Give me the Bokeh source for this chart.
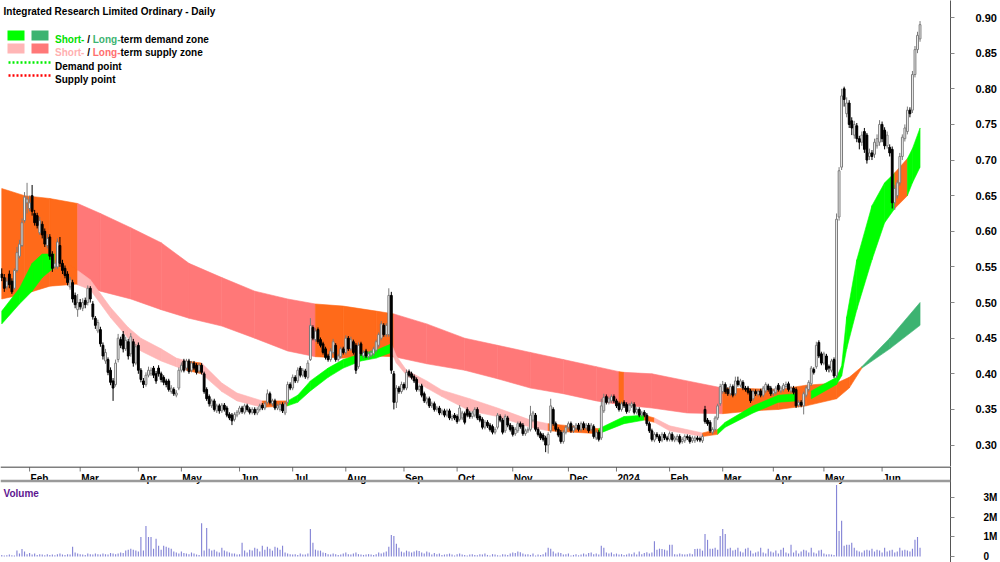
import pandas as pd
from bokeh.plotting import figure
from bokeh.layouts import column
from bokeh.models import (Range1d, FixedTicker, Label, ColumnDataSource,
                          BoxAnnotation, Arrow, Span, NumeralTickFormatter)
from bokeh.core.properties import value
from bokeh.embed import file_html
from bokeh.resources import INLINE

TITLE = "Integrated Research Limited Ordinary - Daily"
FIRST_DAY = "2023-01-16"
LAST_DAY = "2024-06-25"
HOLIDAYS = ["2023-01-26", "2023-04-07", "2023-04-10", "2023-04-25", "2023-06-12", "2023-12-25",
            "2023-12-26", "2024-01-01", "2024-01-26", "2024-03-29", "2024-04-01", "2024-04-25",
            "2024-06-10"]
PRICE_TICKS = [0.30, 0.35, 0.40, 0.45, 0.50, 0.55, 0.60, 0.65, 0.70, 0.75, 0.80, 0.85, 0.90]
VOLUME_TICKS = [0, 1, 2, 3]
VOLUME_TICK_LABELS = ["0", "1M", "2M", "3M"]

opens = [
    .540, .535, .522, .540, .530, .520, .545, .565, .580, .615,
    .640, .632, .650, .625, .622, .598, .610, .600, .580, .592,
    .568, .550, .550, .580, .555, .548, .540, .522, .528, .510,
    .490, .500, .492, .503, .500, .520, .498, .478, .460, .462,
    .440, .418, .420, .405, .390, .385, .420, .448, .455, .435,
    .445, .428, .445, .415, .440, .405, .390, .385, .398, .400,
    .408, .400, .408, .400, .395, .390, .390, .375, .378, .370,
    .380, .405, .418, .408, .418, .405, .415, .412, .404, .412,
    .400, .378, .368, .355, .362, .348, .355, .348, .356, .352,
    .343, .342, .336, .342, .346, .352, .346, .355, .350, .346,
    .350, .345, .350, .356, .352, .360, .372, .358, .362, .352,
    .350, .357, .345, .360, .385, .380, .395, .390, .408, .398,
    .404, .395, .420, .465, .448, .462, .448, .442, .435, .425,
    .420, .430, .440, .420, .424, .435, .430, .450, .435, .445,
    .440, .410, .442, .425, .432, .424, .426, .428, .433, .440,
    .450, .468, .455, .455, .510, .400, .360, .380, .375, .385,
    .380, .403, .400, .396, .392, .378, .383, .372, .360, .365,
    .355, .358, .350, .352, .345, .348, .342, .348, .337, .342,
    .340, .336, .338, .344, .350, .345, .340, .342, .350, .340,
    .336, .325, .332, .328, .326, .318, .325, .340, .335, .320,
    .338, .328, .325, .316, .320, .330, .328, .316, .320, .322,
    .335, .342, .322, .316, .314, .310, .300, .320, .350, .330,
    .322, .318, .305, .318, .325, .330, .320, .324, .328, .322,
    .330, .324, .328, .322, .326, .310, .318, .310, .348, .368,
    .360, .362, .368, .362, .358, .350, .360, .357, .348, .355,
    .357, .346, .350, .342, .346, .342, .330, .320, .307, .315,
    .312, .307, .315, .310, .308, .315, .307, .308, .312, .305,
    .306, .312, .311, .306, .306, .310, .309, .306, .350, .335,
    .332, .318, .322, .338, .358, .375, .385, .378, .372, .382,
    .372, .390, .384, .388, .380, .380, .376, .365, .375, .371,
    .376, .370, .376, .383, .380, .372, .374, .384, .376, .378,
    .382, .386, .376, .380, .378, .356, .360, .355, .370, .378,
    .386, .406, .410, .444, .428, .415, .425, .410, .405, .420,
    .397, .620, .690, .800, .765, .780, .755, .735, .748, .730,
    .725, .740, .735, .705, .710, .708, .720, .725, .750, .742,
    .720, .718, .715, .640, .650, .668, .705, .730, .740, .770,
    .770, .820, .855, .870]

highs = [
    .548, .540, .535, .545, .534, .548, .578, .588, .618, .655,
    .668, .650, .665, .630, .626, .620, .614, .604, .596, .596,
    .572, .560, .590, .592, .560, .552, .544, .536, .532, .514,
    .512, .505, .506, .507, .524, .523, .502, .481, .476, .466,
    .444, .435, .423, .409, .394, .420, .456, .452, .460, .452,
    .449, .457, .449, .442, .444, .408, .394, .402, .410, .409,
    .411, .404, .412, .403, .398, .393, .393, .384, .381, .377,
    .409, .416, .421, .421, .421, .418, .418, .415, .415, .415,
    .403, .381, .371, .365, .365, .358, .358, .359, .359, .355,
    .346, .345, .346, .349, .355, .355, .358, .358, .353, .353,
    .353, .353, .358, .359, .361, .378, .375, .365, .365, .358,
    .360, .360, .361, .389, .388, .399, .398, .409, .411, .408,
    .407, .419, .478, .468, .464, .465, .451, .445, .438, .428,
    .436, .449, .443, .428, .438, .438, .454, .453, .452, .448,
    .443, .444, .445, .433, .435, .431, .433, .438, .448, .458,
    .474, .471, .471, .520, .515, .404, .384, .383, .389, .388,
    .406, .406, .403, .399, .395, .385, .386, .375, .368, .368,
    .361, .361, .355, .355, .351, .351, .351, .351, .343, .345,
    .343, .356, .348, .347, .353, .348, .348, .353, .353, .343,
    .339, .335, .335, .331, .329, .325, .345, .343, .338, .343,
    .341, .331, .328, .325, .333, .333, .331, .323, .325, .355,
    .348, .345, .325, .319, .317, .313, .318, .365, .353, .333,
    .325, .321, .321, .328, .333, .333, .328, .331, .331, .333,
    .333, .331, .331, .331, .329, .321, .321, .365, .372, .371,
    .368, .371, .371, .365, .361, .361, .363, .360, .359, .361,
    .360, .353, .353, .348, .349, .345, .333, .323, .318, .318,
    .315, .318, .318, .313, .319, .318, .313, .315, .315, .311,
    .315, .315, .314, .313, .313, .313, .312, .315, .355, .338,
    .335, .325, .341, .358, .386, .390, .388, .381, .386, .385,
    .396, .396, .393, .391, .383, .383, .379, .378, .378, .378,
    .379, .383, .388, .386, .383, .379, .383, .387, .383, .387,
    .389, .389, .383, .383, .381, .363, .363, .375, .383, .391,
    .411, .409, .445, .447, .431, .431, .428, .413, .421, .423,
    .625, .690, .800, .803, .788, .784, .760, .755, .752, .734,
    .740, .745, .738, .716, .714, .730, .736, .756, .754, .746,
    .740, .722, .719, .665, .672, .710, .736, .750, .775, .774,
    .825, .860, .880, .895]

lows = [
    .530, .515, .518, .520, .512, .518, .542, .562, .578, .612,
    .625, .628, .622, .608, .604, .595, .590, .578, .576, .560,
    .543, .546, .547, .550, .540, .534, .524, .518, .500, .492,
    .480, .490, .488, .492, .496, .500, .476, .463, .457, .438,
    .420, .414, .398, .384, .362, .382, .416, .436, .430, .432,
    .420, .424, .410, .412, .400, .388, .380, .382, .395, .397,
    .394, .386, .396, .388, .384, .381, .375, .372, .369, .367,
    .377, .402, .402, .405, .400, .402, .405, .399, .401, .399,
    .372, .362, .354, .352, .347, .345, .344, .345, .347, .339,
    .335, .328, .333, .339, .343, .344, .343, .347, .343, .343,
    .342, .342, .347, .349, .349, .357, .357, .355, .349, .349,
    .347, .345, .342, .357, .377, .377, .387, .387, .395, .395,
    .393, .392, .418, .447, .445, .442, .437, .427, .420, .417,
    .417, .427, .417, .417, .421, .427, .427, .432, .432, .427,
    .400, .407, .425, .422, .422, .421, .423, .425, .430, .437,
    .447, .452, .452, .452, .400, .350, .352, .372, .372, .377,
    .377, .395, .392, .387, .375, .375, .367, .359, .357, .352,
    .352, .347, .347, .342, .342, .339, .339, .335, .334, .335,
    .330, .333, .335, .329, .339, .337, .337, .339, .335, .332,
    .322, .322, .324, .319, .315, .315, .322, .332, .315, .317,
    .325, .319, .312, .313, .317, .323, .313, .313, .317, .319,
    .332, .319, .312, .307, .305, .290, .288, .317, .327, .319,
    .311, .302, .302, .315, .322, .317, .317, .321, .319, .319,
    .321, .321, .317, .319, .309, .307, .305, .307, .345, .357,
    .357, .359, .359, .352, .347, .347, .352, .344, .345, .352,
    .343, .343, .339, .339, .339, .327, .317, .305, .304, .309,
    .303, .304, .307, .305, .305, .305, .304, .305, .301, .302,
    .303, .307, .302, .303, .303, .305, .304, .303, .330, .327,
    .317, .315, .319, .335, .355, .372, .372, .369, .369, .367,
    .369, .382, .381, .377, .375, .371, .359, .362, .369, .368,
    .367, .367, .373, .375, .369, .369, .371, .375, .373, .375,
    .379, .375, .373, .371, .352, .353, .353, .343, .367, .375,
    .383, .399, .407, .422, .412, .412, .403, .402, .402, .394,
    .394, .615, .686, .775, .760, .745, .735, .730, .725, .715,
    .720, .710, .695, .700, .700, .703, .716, .720, .725, .715,
    .716, .705, .632, .630, .646, .664, .700, .726, .736, .760,
    .766, .816, .850, .866]

closes = [
    .535, .520, .530, .525, .515, .545, .570, .582, .612, .648,
    .645, .640, .628, .612, .608, .615, .595, .582, .590, .565,
    .548, .555, .585, .555, .545, .538, .528, .532, .505, .497,
    .500, .494, .500, .497, .520, .505, .480, .468, .472, .442,
    .425, .430, .402, .388, .380, .415, .450, .440, .435, .447,
    .425, .452, .415, .438, .405, .392, .385, .398, .405, .405,
    .398, .390, .400, .392, .388, .385, .378, .380, .372, .373,
    .405, .412, .405, .418, .403, .415, .408, .402, .412, .402,
    .375, .365, .358, .362, .350, .355, .348, .356, .350, .342,
    .338, .334, .343, .346, .352, .347, .355, .350, .346, .350,
    .345, .350, .355, .352, .358, .372, .360, .362, .352, .355,
    .357, .348, .358, .385, .380, .395, .390, .405, .398, .405,
    .396, .415, .468, .450, .460, .445, .440, .430, .423, .420,
    .432, .445, .420, .425, .435, .430, .450, .435, .448, .430,
    .405, .440, .428, .430, .425, .428, .430, .435, .445, .455,
    .470, .455, .468, .510, .405, .360, .380, .375, .385, .380,
    .402, .398, .395, .390, .378, .382, .370, .362, .365, .355,
    .358, .350, .352, .345, .348, .342, .348, .338, .340, .338,
    .333, .352, .345, .332, .342, .340, .345, .350, .338, .335,
    .325, .332, .327, .322, .318, .322, .342, .335, .318, .340,
    .328, .322, .315, .322, .330, .326, .316, .320, .322, .342,
    .345, .322, .315, .310, .308, .300, .315, .355, .330, .322,
    .314, .305, .318, .325, .330, .320, .325, .328, .322, .330,
    .324, .328, .320, .328, .312, .318, .308, .355, .367, .360,
    .365, .368, .362, .355, .350, .358, .355, .347, .356, .358,
    .346, .350, .342, .345, .342, .330, .320, .308, .315, .312,
    .306, .315, .310, .308, .316, .308, .310, .312, .304, .308,
    .312, .310, .305, .310, .310, .308, .307, .312, .333, .330,
    .320, .322, .338, .355, .382, .385, .375, .372, .382, .370,
    .390, .385, .390, .380, .378, .374, .362, .375, .372, .375,
    .370, .380, .385, .378, .372, .376, .380, .378, .380, .384,
    .385, .378, .380, .374, .355, .360, .356, .372, .380, .388,
    .408, .402, .440, .425, .415, .428, .406, .408, .418, .397,
    .617, .685, .790, .785, .780, .750, .745, .750, .730, .725,
    .735, .715, .700, .710, .705, .725, .730, .750, .730, .720,
    .735, .710, .640, .660, .668, .705, .732, .745, .770, .765,
    .820, .855, .875, .890]

volumes_m = [
    .08, .05, .06, .10, .07, .05, .30, .15, .38, .25,
    .12, .18, .10, .15, .08, .12, .10, .06, .12, .08,
    .10, .06, .12, .15, .10, .08, .12, .10, .50, .20,
    .15, .12, .10, .08, .15, .12, .10, .15, .12, .10,
    .15, .12, .10, .18, .15, .12, .15, .20, .18, .30,
    .35, .40, .35, .30, .25, 1.00, .30, 1.56, 1.00, 1.00,
    .40, .90, .55, .35, .55, .50, .45, .40, .25, .20,
    .15, .25, .18, .15, .12, .20, .15, .10, .08, 1.70,
    .30, 1.45, .40, .30, .35, .25, .20, .45, .30, .25,
    .20, .15, .15, .10, .12, .70, .30, .20, .35, .30,
    .45, .40, .25, .55, .35, .50, .40, .30, .50, .45,
    .35, .55, .20, .15, .12, .10, .12, .08, .15, .10,
    .10, .15, 1.40, .70, .35, .30, .30, .20, .18, .12,
    .10, .15, .12, .08, .10, .15, .20, .12, .10, .15,
    .20, .12, .10, .08, .10, .12, .10, .08, .12, .20,
    .15, .20, .25, .50, 1.10, 1.05, .65, .45, .25, .20,
    .30, .25, .20, .25, .30, .28, .20, .15, .25, .20,
    .10, .18, .12, .15, .08, .10, .12, .15, .10, .05,
    .12, .15, .10, .08, .05, .10, .12, .08, .06, .12,
    .10, .15, .08, .05, .12, .10, .06, .05, .12, .10,
    .08, .15, .20, .18, .25, .22, .15, .10, .12, .08,
    .15, .05, .10, .08, .12, .20, .45, .40, .25, .15,
    .20, .18, .10, .12, .15, .05, .08, .12, .06, .10,
    .15, .10, .18, .20, .12, .15, .10, .55, .45, .20,
    .15, .20, .12, .15, .10, .12, .08, .10, .15, .12,
    .20, .10, .25, .12, .18, .22, .15, .20, .78, .35,
    .40, .38, .35, .30, .60, .60, .12, .10, .15, .12,
    .10, .12, .15, .12, .38, .40, .40, .30, 1.15, .85,
    .40, .40, .45, .35, 1.05, 1.40, 1.15, .40, .45, .30,
    .35, .45, .25, .20, .40, .45, .30, .15, .20, .25,
    .45, .20, .15, .40, .25, .20, .30, .15, .35, .45,
    .20, .15, .60, .20, .30, .15, .25, .35, .30, .20,
    .45, .20, .15, .30, .35, .15, .10, .12, .10, .08,
    3.65, 1.30, 1.83, .55, .60, .60, .70, .45, .30, .25,
    .20, .30, .35, .30, .40, .25, .35, .30, .20, .45,
    .25, .30, .35, .20, .25, .45, .30, .35, .30, .25,
    .40, .85, 1.00, .45]

# Long-term zone (two slow averages), sampled on trading-day index
lt_day = [0, 9, 19, 30, 39, 51, 63, 74, 87, 100, 113, 124, 135, 148, 155, 168, 183, 196, 209,
          222, 235, 244, 246, 257, 271, 285, 297, 307, 318, 330, 335, 340, 351, 363]
lt_edge_a = [.660, .650, .646, .639, .625, .605, .584, .555, .535, .516, .505, .498, .495, .488,
             .484, .470, .450, .440, .430, .420, .410, .403, .402, .400, .390, .380, .379, .378,
             .384, .387, .395, .410, .450, .500]
lt_edge_b = [.505, .512, .523, .526, .516, .505, .490, .478, .467, .450, .432, .424, .422, .425,
             .424, .414, .405, .393, .380, .372, .362, .357, .356, .352, .345, .344, .348, .350,
             .355, .365, .380, .408, .435, .468]
lt_state = ["O", "O", "O", "P", "P", "P", "P", "P", "P", "P", "P", "O", "O", "O", "P", "P", "P",
            "P", "P", "P", "P", "O", "P", "P", "P", "O", "O", "O", "O", "O", "O", "G", "G", "G"]

# Short-term zone (two fast averages)
st_day = [0, 7, 12, 16, 21, 30, 35, 43, 50, 55, 63, 69, 73, 79, 87, 93, 103, 113, 117, 122,
          129, 135, 142, 148, 154, 156, 160, 168, 174, 185, 196, 209, 216, 236, 246, 254, 258,
          264, 277, 283, 286, 297, 307, 314, 320, 330, 332, 334, 338, 344, 349, 353, 358, 360, 363]
st_edge_a = [.488, .520, .555, .568, .568, .545, .532, .493, .465, .450, .435, .422, .418, .415,
             .387, .373, .362, .362, .370, .390, .408, .420, .428, .433, .442, .425, .405, .390,
             .377, .365, .352, .335, .330, .323, .340, .342, .338, .327, .317, .322, .332, .355,
             .370, .372, .376, .395, .411, .480, .560, .636, .668, .682, .702, .716, .745]
st_edge_b = [.470, .498, .516, .535, .550, .525, .518, .479, .450, .432, .418, .410, .405, .400,
             .375, .362, .353, .355, .360, .376, .395, .408, .418, .422, .430, .415, .398, .380,
             .368, .348, .340, .325, .320, .316, .330, .335, .332, .320, .312, .315, .325, .345,
             .360, .362, .365, .385, .397, .435, .490, .560, .612, .632, .650, .668, .690]
st_state = ["G", "G", "G", "G", "O", "P", "P", "P", "P", "P", "P", "P", "O", "P", "P", "P", "O",
            "G", "G", "G", "G", "G", "G", "G", "P", "P", "P", "P", "P", "P", "P", "P", "O", "G",
            "G", "O", "P", "P", "O", "G", "G", "G", "G", "O", "G", "G", "G", "G", "G", "G", "G",
            "O", "G", "G", "G"]

ORANGE = "#ff6a1a"
LT_COLORS = {"G": "#3cb371", "P": "#ff7878", "O": ORANGE}
ST_COLORS = {"G": "#00ff00", "P": "#ffb6b6", "O": ORANGE}
FONT = "Liberation Sans"

# ---------- dates / month ticks ----------
dates = pd.bdate_range(FIRST_DAY, LAST_DAY, freq="C", holidays=HOLIDAYS)
month_idx, month_lbl = [], []
for i in range(1, len(dates)):
    if dates[i].month != dates[i - 1].month:
        month_idx.append(i)
        month_lbl.append(str(dates[i].year) if dates[i].month == 1 else dates[i].strftime("%b"))

n = len(closes)
idx = list(range(n))

FRAME_H = 466
PX_PER_DAY = 2.535
x_range = Range1d(-0.5, 952 / PX_PER_DAY - 0.5)

# ================= price panel =================
p = figure(width=1000, height=FRAME_H, x_range=x_range, y_range=Range1d(0.2699, 0.9239),
           output_backend="svg", toolbar_location=None, x_axis_type=None, y_axis_location="right",
           min_border_left=0, min_border_top=0, min_border_right=48, min_border_bottom=0)
p.outline_line_color = None
p.ygrid.grid_line_color = None

ya = p.yaxis[0]
ya.ticker = FixedTicker(ticks=PRICE_TICKS)
ya.formatter = NumeralTickFormatter(format="0.00")
ya.major_tick_out = 4
ya.major_tick_in = 0
ya.minor_tick_out = 0
ya.minor_tick_in = 0
ya.major_label_standoff = 21
ya.major_label_text_font = FONT
ya.major_label_text_font_size = "11px"
ya.major_label_text_font_style = "bold"
ya.major_label_text_color = "black"
ya.axis_line_color = "#555555"
ya.major_tick_line_color = "#888888"


def band_source(days, a, b, states, palette):
    xs, ys, cs = [], [], []
    for k in range(len(days) - 1):
        xs.append([days[k], days[k + 1], days[k + 1], days[k]])
        ys.append([a[k], a[k + 1], b[k + 1], b[k]])
        cs.append(palette[states[k]])
    return ColumnDataSource(dict(xs=xs, ys=ys, color=cs))


lt_src = band_source(lt_day, lt_edge_a, lt_edge_b, lt_state, LT_COLORS)
st_src = band_source(st_day, st_edge_a, st_edge_b, st_state, ST_COLORS)
p.patches("xs", "ys", source=lt_src, fill_color="color", line_color="color", line_width=0.6)
p.patches("xs", "ys", source=st_src, fill_color="color", line_color="color", line_width=0.6)

up = dict(x=[], h=[], l=[], top=[], bot=[])
dn = dict(x=[], h=[], l=[], top=[], bot=[])
for i in idx:
    d = up if closes[i] >= opens[i] else dn
    d["x"].append(i)
    d["h"].append(highs[i])
    d["l"].append(lows[i])
    d["top"].append(max(opens[i], closes[i]))
    d["bot"].append(min(opens[i], closes[i]))
up_src = ColumnDataSource(up)
dn_src = ColumnDataSource(dn)

p.segment(x0="x", y0="l", x1="x", y1="h", source=up_src, line_color="#7a7a7a", line_width=1)
p.segment(x0="x", y0="l", x1="x", y1="h", source=dn_src, line_color="black", line_width=1)
p.vbar(x="x", top="top", bottom="bot", width=0.72, source=up_src, fill_color="white",
       line_color="#7a7a7a", line_width=1)
p.vbar(x="x", top="top", bottom="bot", width=0.72, source=dn_src, fill_color="black",
       line_color="black", line_width=1)


def sy(px):
    return FRAME_H - px


def lbl(x, ytop, text, color="black"):
    p.add_layout(Label(x=x, y=sy(ytop), x_units="screen", y_units="screen", text=text,
                       text_font=FONT, text_font_size="10px", text_font_style="bold",
                       text_color=color, text_baseline="alphabetic"))


lbl(3, 10.5, TITLE)
for (l, r, t, b, c) in [(7, 24, 30, 40, ST_COLORS["G"]), (31, 48, 30, 40, LT_COLORS["G"]),
                        (7, 24, 43, 53, ST_COLORS["P"]), (31, 48, 43, 53, LT_COLORS["P"])]:
    p.add_layout(BoxAnnotation(left=l, right=r, top=sy(t), bottom=sy(b), left_units="screen",
                               right_units="screen", top_units="screen", bottom_units="screen",
                               fill_color=c, fill_alpha=1, line_color=None))
for (yy, c) in [(62, "#00ee00"), (75, "#ff0000")]:
    p.add_layout(Arrow(x_start=8, y_start=sy(yy), x_end=50, y_end=sy(yy), start_units="screen",
                       end_units="screen", end=None, line_color=c, line_width=2.5,
                       line_dash="2 2"))

lbl(54.5, 39, "Short-", "#00e000")
lbl(86.7, 39, "/")
lbl(92.2, 39, "Long-", "#3cb371")
lbl(120.0, 39, "term demand zone")
lbl(54.5, 52, "Short-", "#ffb0b0")
lbl(86.7, 52, "/")
lbl(92.2, 52, "Long-", "#ff6e6e")
lbl(120.0, 52, "term supply zone")
lbl(54.5, 66, "Demand point")
lbl(54.5, 79, "Supply point")

# ================= lower panel: date axis strip + volume =================
V_TOP = 466          # page pixel of lower panel top
V_H = 96
V_ZERO_PX = 556.0    # page pixel of zero volume
V_PX_PER_M = 19.6


def vy(px):
    return (V_ZERO_PX - px) / V_PX_PER_M


v = figure(width=1000, height=V_H, x_range=x_range, y_range=Range1d(vy(V_TOP + V_H), vy(V_TOP)),
           output_backend="svg", toolbar_location=None, x_axis_type=None, y_axis_location="right",
           min_border_left=0, min_border_top=0, min_border_right=48, min_border_bottom=0)
v.outline_line_color = None
v.ygrid.grid_line_color = None

# date axis line, ticks, labels
v.add_layout(Span(location=vy(466.5), dimension="width", line_color="black", line_width=1))
v.segment(x0=month_idx, x1=month_idx, y0=[vy(467)] * len(month_idx),
          y1=[vy(471)] * len(month_idx), line_color="#777777", line_width=1)
v.text(x=month_idx, y=[vy(477.5)] * len(month_idx), text=month_lbl, x_offset=1,
       text_font=value(FONT), text_font_size="10px", text_font_style="bold",
       text_color="black", text_align="left", text_baseline="alphabetic")
# separator between the date strip and the volume pane
v.add_layout(Span(location=vy(480.5), dimension="width", line_color="#9a9a9a", line_width=2.5))

v.vbar(x=idx, top=volumes_m[:n], bottom=0, width=0.45, fill_color="#8585d6", line_color=None)
vax = v.yaxis[0]
vax.ticker = FixedTicker(ticks=VOLUME_TICKS)
vax.major_label_overrides = {t: s for t, s in zip(VOLUME_TICKS, VOLUME_TICK_LABELS)}
vax.major_tick_out = 4
vax.major_tick_in = 0
vax.minor_tick_out = 0
vax.minor_tick_in = 0
vax.major_label_standoff = 29
vax.major_label_text_font = FONT
vax.major_label_text_font_size = "10px"
vax.major_label_text_font_style = "bold"
vax.major_label_text_color = "black"
vax.axis_line_color = "#555555"
vax.major_tick_line_color = "#888888"
v.add_layout(Label(x=3, y=V_H - (493 - V_TOP), x_units="screen", y_units="screen", text="Volume",
                   text_font=FONT, text_font_size="10px", text_font_style="bold",
                   text_color="#5e1590", text_baseline="alphabetic"))

layout = column(p, v, spacing=0)
open("out.html", "w").write(file_html(layout, INLINE))
